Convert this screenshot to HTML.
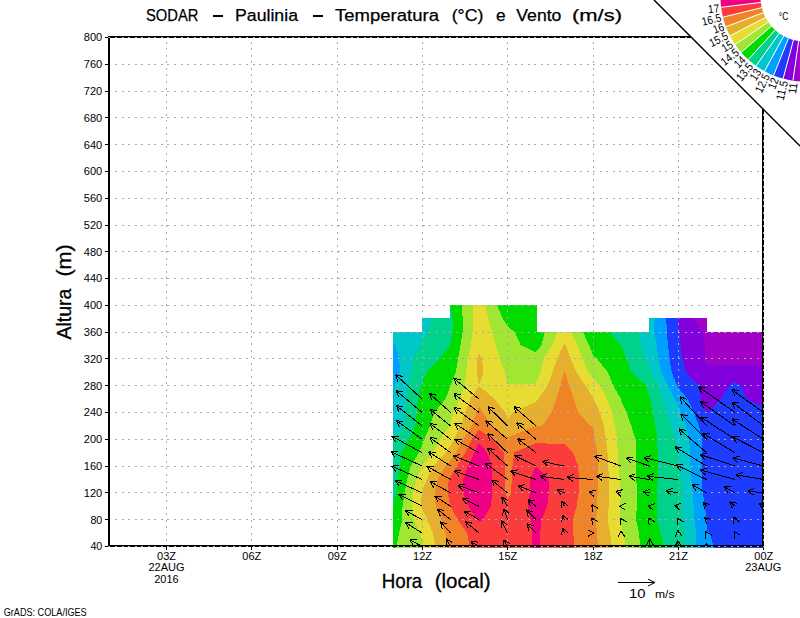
<!DOCTYPE html>
<html><head><meta charset="utf-8"><title>SODAR</title>
<style>html,body{margin:0;padding:0;background:#fff;width:800px;height:618px;overflow:hidden}svg{display:block}</style>
</head><body>
<svg width="800" height="618" viewBox="0 0 800 618"><g shape-rendering="crispEdges"><path d="M393.80 547.40L422.25 547.40L450.69 547.40L479.13 547.40L507.58 547.40L536.02 547.40L564.47 547.40L592.91 547.40L621.35 547.40L649.80 547.40L678.24 547.40L706.69 547.40L735.13 547.40L762.00 547.40L762.00 533.11L762.00 519.71L762.00 506.32L762.00 492.92L762.00 479.53L762.00 466.13L762.00 452.74L762.00 439.34L762.00 425.95L762.00 412.55L762.00 399.16L762.00 385.76L762.00 372.37L762.00 358.97L762.00 345.58L762.00 332.18L735.13 332.18L706.69 332.18L706.69 318.79L678.24 318.79L649.80 318.79L649.80 332.18L621.35 332.18L592.91 332.18L564.47 332.18L536.02 332.18L536.02 318.79L536.02 305.39L507.58 305.39L479.13 305.39L450.69 305.39L450.69 318.79L422.25 318.79L422.25 332.18L393.80 332.18L393.80 345.58L393.80 358.97L393.80 372.37L393.80 385.76L393.80 399.16L393.80 412.55L393.80 425.95L393.80 439.34L393.80 452.74L393.80 466.13L393.80 479.53L393.80 492.92L393.80 506.32L393.80 519.71L393.80 533.11Z" fill="#a000c8" stroke="#a000c8" stroke-width="1" fill-rule="evenodd"/><path d="M393.80 547.40L422.25 547.40L450.69 547.40L479.13 547.40L507.58 547.40L536.02 547.40L564.47 547.40L592.91 547.40L621.35 547.40L649.80 547.40L678.24 547.40L706.69 547.40L735.13 547.40L762.00 547.40L762.00 533.11L762.00 519.71L762.00 506.32L762.00 492.92L762.00 479.53L762.00 466.13L762.00 452.74L762.00 439.34L762.00 425.95L762.00 412.55L762.00 399.16L762.00 385.76L762.00 372.37L762.00 358.97L762.00 345.58L762.00 332.18L735.13 332.18L706.69 332.18L706.69 318.79L678.24 318.79L649.80 318.79L649.80 332.18L621.35 332.18L592.91 332.18L564.47 332.18L536.02 332.18L536.02 318.79L536.02 305.39L507.58 305.39L479.13 305.39L450.69 305.39L450.69 318.79L422.25 318.79L422.25 332.18L393.80 332.18L393.80 345.58L393.80 358.97L393.80 372.37L393.80 385.76L393.80 399.16L393.80 412.55L393.80 425.95L393.80 439.34L393.80 452.74L393.80 466.13L393.80 479.53L393.80 492.92L393.80 506.32L393.80 519.71L393.80 533.11Z" fill="#a000c8" stroke="#a000c8" stroke-width="1" fill-rule="evenodd"/><path d="M393.80 547.40L422.25 547.40L450.69 547.40L479.13 547.40L507.58 547.40L536.02 547.40L564.47 547.40L592.91 547.40L621.35 547.40L649.80 547.40L678.24 547.40L706.69 547.40L735.13 547.40L762.00 547.40L762.00 533.11L762.00 519.71L762.00 506.32L762.00 492.92L762.00 479.53L762.00 466.13L762.00 452.74L762.00 439.34L762.00 425.95L762.00 412.55L762.00 399.16L762.00 385.76L762.00 372.37L762.00 365.00L735.13 365.00L706.69 365.97L704.25 358.97L704.94 345.58L701.88 332.18L692.21 318.79L678.24 318.79L649.80 318.79L649.80 332.18L621.35 332.18L592.91 332.18L564.47 332.18L536.02 332.18L536.02 318.79L536.02 305.39L507.58 305.39L479.13 305.39L450.69 305.39L450.69 318.79L422.25 318.79L422.25 332.18L393.80 332.18L393.80 345.58L393.80 358.97L393.80 372.37L393.80 385.76L393.80 399.16L393.80 412.55L393.80 425.95L393.80 439.34L393.80 452.74L393.80 466.13L393.80 479.53L393.80 492.92L393.80 506.32L393.80 519.71L393.80 533.11Z" fill="#8200dc" stroke="#8200dc" stroke-width="1" fill-rule="evenodd"/><path d="M393.80 547.40L422.25 547.40L450.69 547.40L479.13 547.40L507.58 547.40L536.02 547.40L564.47 547.40L592.91 547.40L621.35 547.40L649.80 547.40L678.24 547.40L706.69 547.40L735.13 547.40L762.00 547.40L762.00 533.11L762.00 519.71L762.00 506.32L762.00 492.92L762.00 479.53L762.00 466.13L762.00 452.74L762.00 439.34L762.00 425.95L762.00 412.55L762.00 406.90L746.27 399.16L740.19 385.76L735.13 382.55L729.62 385.76L721.28 399.16L708.75 412.55L706.69 413.92L706.19 412.55L700.02 399.16L698.05 385.76L685.64 372.37L682.22 358.97L680.01 345.58L678.78 332.18L678.24 327.58L677.72 318.79L649.80 318.79L649.80 332.18L621.35 332.18L592.91 332.18L564.47 332.18L536.02 332.18L536.02 318.79L536.02 305.39L507.58 305.39L479.13 305.39L450.69 305.39L450.69 318.79L422.25 318.79L422.25 332.18L393.80 332.18L393.80 345.58L393.80 358.97L393.80 372.37L393.80 385.76L393.80 399.16L393.80 412.55L393.80 425.95L393.80 439.34L393.80 452.74L393.80 466.13L393.80 479.53L393.80 492.92L393.80 506.32L393.80 519.71L393.80 533.11Z" fill="#1e3cff" stroke="#1e3cff" stroke-width="1" fill-rule="evenodd"/><path d="M393.80 547.40L422.25 547.40L450.69 547.40L479.13 547.40L507.58 547.40L536.02 547.40L564.47 547.40L592.91 547.40L621.35 547.40L649.80 547.40L678.24 547.40L706.69 547.40L713.18 547.40L709.48 533.11L706.69 531.03L706.03 519.71L704.53 506.32L702.40 492.92L701.07 479.53L701.10 466.13L701.83 452.74L701.94 439.34L698.32 425.95L693.41 412.55L686.97 399.16L678.24 388.71L676.52 385.76L671.19 372.37L669.12 358.97L667.56 345.58L666.18 332.18L665.89 318.79L649.80 318.79L649.80 332.18L621.35 332.18L592.91 332.18L564.47 332.18L536.02 332.18L536.02 318.79L536.02 305.39L507.58 305.39L479.13 305.39L450.69 305.39L450.69 318.79L422.25 318.79L422.25 332.18L393.80 332.18L393.80 345.58L393.80 358.97L393.80 372.37L393.80 385.76L393.80 399.16L393.80 412.55L393.80 425.95L393.80 439.34L393.80 452.74L393.80 466.13L393.80 479.53L393.80 492.92L393.80 506.32L393.80 519.71L393.80 533.11Z" fill="#00a0ff" stroke="#00a0ff" stroke-width="1" fill-rule="evenodd"/><path d="M393.80 547.40L422.25 547.40L450.69 547.40L479.13 547.40L507.58 547.40L536.02 547.40L564.47 547.40L592.91 547.40L621.35 547.40L649.80 547.40L678.24 547.40L696.14 547.40L695.38 533.11L694.07 519.71L693.17 506.32L692.09 492.92L690.87 479.53L690.04 466.13L689.55 452.74L688.76 439.34L685.57 425.95L680.63 412.55L678.24 407.72L674.18 399.16L667.43 385.76L660.87 372.37L657.98 358.97L656.06 345.58L653.83 332.18L654.06 318.79L649.80 318.79L649.80 332.18L621.35 332.18L592.91 332.18L564.47 332.18L536.02 332.18L536.02 318.79L536.02 305.39L507.58 305.39L479.13 305.39L450.69 305.39L450.69 318.79L422.25 318.79L422.25 332.18L393.80 332.18L393.80 343.54L396.03 345.58L399.95 358.97L400.20 372.37L394.90 385.76L394.72 399.16L393.92 412.55L393.91 425.95L393.80 426.08L393.80 439.34L393.80 452.74L393.80 466.13L393.80 479.53L393.80 492.92L393.80 506.32L393.80 519.71L393.80 533.11Z" fill="#00c8c8" stroke="#00c8c8" stroke-width="1" fill-rule="evenodd"/><path d="M393.80 547.40L422.25 547.40L450.69 547.40L479.13 547.40L507.58 547.40L536.02 547.40L564.47 547.40L592.91 547.40L621.35 547.40L649.80 547.40L678.24 547.40L685.49 547.40L683.97 533.11L682.11 519.71L681.82 506.32L681.78 492.92L680.67 479.53L678.98 466.13L678.24 460.01L676.68 452.74L674.66 439.34L671.21 425.95L666.61 412.55L661.93 399.16L658.33 385.76L650.56 372.37L649.80 369.46L644.84 358.97L640.71 345.58L637.67 332.18L621.35 332.18L592.91 332.18L564.47 332.18L536.02 332.18L536.02 318.79L536.02 305.39L507.58 305.39L479.13 305.39L450.69 305.39L450.69 318.79L432.91 318.79L427.83 332.18L422.25 342.58L420.93 345.58L413.28 358.97L411.80 372.37L408.40 385.76L406.48 399.16L405.65 412.55L404.86 425.95L394.16 439.34L393.80 439.90L393.80 452.74L393.80 466.13L393.80 479.53L393.80 492.92L393.80 506.32L393.80 519.71L393.80 533.11Z" fill="#00d28c" stroke="#00d28c" stroke-width="1" fill-rule="evenodd"/><path d="M393.80 547.40L422.25 547.40L450.69 547.40L479.13 547.40L507.58 547.40L536.02 547.40L564.47 547.40L592.91 547.40L621.35 547.40L649.80 547.40L663.34 547.40L660.11 533.11L655.98 519.71L657.04 506.32L656.78 492.92L657.10 479.53L657.16 466.13L657.04 452.74L656.95 439.34L654.65 425.95L652.31 412.55L649.80 399.88L649.50 399.16L645.46 385.76L630.94 372.37L626.17 358.97L621.35 347.04L620.02 345.58L609.01 332.18L592.91 332.18L564.47 332.18L536.02 332.18L536.02 318.79L536.02 305.39L507.58 305.39L479.13 305.39L450.69 305.39L450.69 305.88L453.32 318.79L453.17 332.18L450.69 345.06L450.39 345.58L440.07 358.97L427.16 372.37L422.25 383.05L421.90 385.76L418.24 399.16L417.38 412.55L415.80 425.95L409.37 439.34L401.88 452.74L400.60 466.13L398.32 479.53L396.61 492.92L393.80 505.92L393.80 506.32L393.80 519.71L393.80 533.11Z" fill="#00dc00" stroke="#00dc00" stroke-width="1" fill-rule="evenodd"/><path d="M396.93 547.40L422.25 547.40L450.69 547.40L479.13 547.40L507.58 547.40L536.02 547.40L564.47 547.40L592.91 547.40L621.35 547.40L639.69 547.40L638.51 533.11L635.58 519.71L636.21 506.32L636.25 492.92L635.94 479.53L635.44 466.13L635.15 452.74L635.26 439.34L630.80 425.95L626.11 412.55L621.35 402.79L620.51 399.16L612.72 385.76L607.43 372.37L596.55 358.97L592.91 355.86L588.70 345.58L582.42 332.18L564.47 332.18L545.31 332.18L541.75 345.58L536.02 352.89L520.46 345.58L514.11 332.18L507.58 327.19L502.30 318.79L496.57 305.39L479.13 305.39L462.10 305.39L463.24 318.79L463.11 332.18L460.98 345.58L458.51 358.97L456.18 372.37L450.83 385.76L450.69 386.72L445.99 399.16L434.87 412.55L430.47 425.95L424.73 439.34L422.25 446.12L419.58 452.74L411.37 466.13L407.71 479.53L405.13 492.92L403.04 506.32L402.74 519.71L399.45 533.11Z" fill="#a0e632" stroke="#a0e632" stroke-width="1" fill-rule="evenodd"/><path d="M420.56 533.11L422.25 538.21L423.96 547.40L450.69 547.40L479.13 547.40L507.58 547.40L536.02 547.40L564.47 547.40L592.91 547.40L621.35 547.40L625.47 547.40L622.76 533.11L621.35 528.78L619.11 519.71L619.50 506.32L619.81 492.92L618.93 479.53L617.96 466.13L617.23 452.74L616.58 439.34L614.36 425.95L611.38 412.55L606.83 399.16L599.59 385.76L592.91 378.64L587.68 372.37L582.25 358.97L577.00 345.58L570.47 332.18L564.47 332.18L558.07 332.18L552.72 345.58L543.87 358.97L541.32 372.37L536.02 384.86L507.58 384.93L504.34 372.37L499.34 358.97L495.28 345.58L491.62 332.18L487.85 318.79L484.77 305.39L479.13 305.39L473.62 305.39L473.15 318.79L473.04 332.18L471.38 345.58L468.22 358.97L466.71 372.37L465.29 385.76L460.16 399.16L453.83 412.55L450.69 425.46L450.49 425.95L440.85 439.34L433.20 452.74L422.25 465.98L422.14 466.13L417.10 479.53L413.64 492.92L412.37 506.32L414.78 519.71Z" fill="#e6dc32" stroke="#e6dc32" stroke-width="1" fill-rule="evenodd"/><path d="M435.83 547.40L450.69 547.40L479.13 547.40L507.58 547.40L536.02 547.40L564.47 547.40L592.91 547.40L611.50 547.40L609.50 533.11L607.17 519.71L608.11 506.32L608.44 492.92L608.15 479.53L607.93 466.13L607.04 452.74L605.48 439.34L603.58 425.95L599.42 412.55L593.15 399.16L592.91 398.69L585.07 385.76L576.01 372.37L570.28 358.97L565.29 345.58L564.47 343.91L563.69 345.58L557.73 358.97L552.95 372.37L548.21 385.76L538.85 399.16L536.02 402.45L513.24 412.55L507.58 420.25L504.87 412.55L494.02 399.16L479.13 386.48L471.05 399.16L465.61 412.55L461.34 425.95L454.22 439.34L450.69 446.33L446.08 452.74L434.02 466.13L427.22 479.53L422.25 492.63L422.16 492.92L421.70 506.32L422.25 508.10L427.70 519.71L433.58 533.11ZM477.23 372.37L479.13 383.24L482.99 372.37L481.35 358.97L479.13 354.60L477.94 358.97Z" fill="#e6af2d" stroke="#e6af2d" stroke-width="1" fill-rule="evenodd"/><path d="M447.71 547.40L450.69 547.40L479.13 547.40L507.58 547.40L536.02 547.40L564.47 547.40L592.91 547.40L597.65 547.40L596.48 533.11L595.22 519.71L596.72 506.32L597.06 492.92L597.37 479.53L597.91 466.13L596.86 452.74L594.37 439.34L592.91 426.89L589.60 425.95L577.70 412.55L573.22 399.16L569.10 385.76L564.47 372.81L560.81 385.76L556.68 399.16L552.07 412.55L542.94 425.95L536.02 426.47L507.58 438.00L491.02 425.95L482.46 412.55L479.13 407.65L477.38 412.55L472.10 425.95L463.27 439.34L456.58 452.74L450.69 460.97L445.91 466.13L438.22 479.53L435.18 492.92L436.19 506.32L442.06 519.71L445.90 533.11Z" fill="#f08228" stroke="#f08228" stroke-width="1" fill-rule="evenodd"/><path d="M469.99 547.40L479.13 547.40L507.58 547.40L536.02 547.40L564.47 547.40L573.81 547.40L572.81 533.11L572.55 519.71L576.07 506.32L578.20 492.92L578.51 479.53L577.76 466.13L572.55 452.74L564.47 444.52L536.02 443.70L514.57 452.74L513.02 466.13L512.34 479.53L511.46 492.92L507.58 501.27L504.90 492.92L504.25 479.53L504.57 466.13L503.13 452.74L492.11 439.34L479.13 430.16L472.31 439.34L465.75 452.74L457.33 466.13L450.69 477.08L449.22 479.53L448.25 492.92L450.69 504.94L451.07 506.32L458.35 519.71L467.69 533.11Z" fill="#fa3c3c" stroke="#fa3c3c" stroke-width="1" fill-rule="evenodd"/><path d="M532.86 547.40L536.02 547.40L539.75 547.40L539.74 533.11L540.78 519.71L546.79 506.32L548.27 492.92L547.98 479.53L536.02 466.85L530.41 479.53L530.25 492.92L528.24 506.32L531.25 519.71L532.85 533.11ZM477.52 519.71L479.13 521.39L482.28 519.71L490.23 506.32L491.95 492.92L491.63 479.53L491.62 466.13L486.70 452.74L479.13 444.01L474.91 452.74L468.43 466.13L463.97 479.53L463.52 492.92L469.07 506.32Z" fill="#f00082" stroke="#f00082" stroke-width="1" fill-rule="evenodd"/></g>
<path d="M108.45 519.5H762 M108.45 492.5H762 M108.45 466.5H762 M108.45 439.5H762 M108.45 412.5H762 M108.45 385.5H762 M108.45 358.5H762 M108.45 332.5H762 M108.45 305.5H762 M108.45 278.5H762 M108.45 251.5H762 M108.45 225.5H762 M108.45 198.5H762 M108.45 171.5H762 M108.45 144.5H762 M108.45 117.5H762 M108.45 91.5H762 M108.45 64.5H762 M166.5 548V38 M251.5 548V38 M337.5 548V38 M422.5 548V38 M507.5 548V38 M593.5 548V38 M678.5 548V38" stroke="#aaa" stroke-width="1" stroke-dasharray="2 4.55" fill="none" shape-rendering="crispEdges"/>
<clipPath id="pc"><rect x="108" y="36" width="654" height="511"/></clipPath><path clip-path="url(#pc)" d="M422.25 399.16L395.60 374.75M395.60 374.75L398.00 381.54M395.60 374.75L402.57 376.55M422.25 412.55L396.25 390.60M396.25 390.60L398.93 397.28M396.25 390.60L403.29 392.12M422.25 425.95L396.25 405.60M396.25 405.60L399.17 412.18M396.25 405.60L403.34 406.86M422.25 439.34L396.25 420.60M396.25 420.60L399.43 427.06M396.25 420.60L403.38 421.58M422.25 452.74L391.60 436.10M391.60 436.10L395.57 442.10M391.60 436.10L398.80 436.16M422.25 466.13L391.00 451.75M391.00 451.75L395.36 457.48M391.00 451.75L398.19 451.34M422.25 479.53L391.60 466.10M391.60 466.10L396.07 471.75M391.60 466.10L398.78 465.55M422.25 492.92L395.00 480.50M395.00 480.50L399.38 486.21M395.00 480.50L402.19 480.06M422.25 506.32L398.80 494.25M398.80 494.25L402.91 500.16M398.80 494.25L406.00 494.15M422.25 519.71L405.40 510.50M405.40 510.50L409.36 516.52M405.40 510.50L412.60 510.58M422.25 533.11L405.40 522.40M405.40 522.40L408.95 528.66M405.40 522.40L412.58 522.96M422.25 546.50L409.75 539.90M409.75 539.90L413.79 545.86M409.75 539.90L416.95 539.88M450.69 412.55L429.40 393.50M429.40 393.50L431.88 400.26M429.40 393.50L436.39 395.22M450.69 425.95L430.20 409.40M430.20 409.40L433.02 416.02M430.20 409.40L437.27 410.76M450.69 439.34L430.00 423.50M430.00 423.50L432.99 430.05M430.00 423.50L437.10 424.68M450.69 452.74L429.75 437.40M429.75 437.40L432.88 443.88M429.75 437.40L436.88 438.43M450.69 466.13L428.50 451.75M428.50 451.75L432.00 458.04M428.50 451.75L435.67 452.37M450.69 479.53L426.60 466.10M426.60 466.10L430.51 472.15M426.60 466.10L433.80 466.24M450.69 492.92L429.75 481.40M429.75 481.40L433.69 487.43M429.75 481.40L436.95 481.50M450.69 506.32L434.75 496.10M434.75 496.10L438.28 502.38M434.75 496.10L441.93 496.68M450.69 519.71L437.25 509.25M437.25 509.25L440.19 515.82M437.25 509.25L444.34 510.49M450.69 533.11L440.40 521.75M440.40 521.75L442.16 528.73M440.40 521.75L447.17 524.19M450.69 546.50L446.00 538.60M446.00 538.60L446.34 545.79M446.00 538.60L452.15 542.34M479.13 399.16L453.75 378.30M453.75 378.30L456.52 384.95M453.75 378.30L460.81 379.72M479.13 412.55L453.60 393.50M453.60 393.50L456.67 400.01M453.60 393.50L460.72 394.59M479.13 425.95L453.90 407.50M453.90 407.50L457.04 413.98M453.90 407.50L461.03 408.52M479.13 439.34L454.40 423.10M454.40 423.10L457.86 429.41M454.40 423.10L461.57 423.76M479.13 452.74L454.75 439.25M454.75 439.25L458.68 445.28M454.75 439.25L461.95 439.37M479.13 466.13L452.90 455.50M452.90 455.50L457.52 461.02M452.90 455.50L460.06 454.75M479.13 479.53L454.10 471.10M454.10 471.10L459.05 476.33M454.10 471.10L461.20 469.92M479.13 492.92L457.90 485.20M457.90 485.20L462.72 490.55M457.90 485.20L465.03 484.20M479.13 506.32L462.25 498.30M462.25 498.30L466.54 504.08M462.25 498.30L469.44 497.97M479.13 519.71L464.10 511.10M464.10 511.10L467.94 517.19M464.10 511.10L471.30 511.33M479.13 533.11L465.40 521.75M465.40 521.75L468.15 528.41M465.40 521.75L472.45 523.20M479.13 546.50L471.00 541.75M471.00 541.75L474.79 547.87M471.00 541.75L478.19 542.04M507.58 425.95L487.75 406.60M487.75 406.60L489.94 413.46M487.75 406.60L494.66 408.62M507.58 439.34L485.60 420.60M485.60 420.60L488.24 427.30M485.60 420.60L492.63 422.15M507.58 452.74L487.50 433.60M487.50 433.60L489.77 440.43M487.50 433.60L494.43 435.54M507.58 466.13L487.50 448.00M487.50 448.00L489.95 454.77M487.50 448.00L494.48 449.75M507.58 479.53L485.00 463.00M485.00 463.00L488.13 469.48M485.00 463.00L492.13 464.03M507.58 492.92L491.60 479.90M491.60 479.90L494.39 486.54M491.60 479.90L498.66 481.30M507.58 506.32L501.90 496.75M501.90 496.75L502.24 503.94M501.90 496.75L508.05 500.49M507.58 519.71L503.75 508.60M503.75 508.60L502.63 515.71M503.75 508.60L509.02 513.51M507.58 533.11L501.25 520.50M501.25 520.50L501.08 527.70M501.25 520.50L507.12 524.66M507.58 546.50L503.75 539.90M503.75 539.90L504.02 547.10M503.75 539.90L509.86 543.70M536.02 425.95L513.75 406.60M513.75 406.60L516.33 413.32M513.75 406.60L520.77 408.22M536.02 439.34L516.60 422.75M516.60 422.75L519.24 429.45M516.60 422.75L523.63 424.31M536.02 452.74L517.50 438.60M517.50 438.60L520.50 445.14M517.50 438.60L524.60 439.77M536.02 466.13L514.40 455.50M514.40 455.50L518.61 461.34M514.40 455.50L521.60 455.27M536.02 479.53L510.60 471.10M510.60 471.10L515.57 476.31M510.60 471.10L517.70 469.89M536.02 492.92L517.90 485.50M517.90 485.50L522.50 491.04M517.90 485.50L525.06 484.78M536.02 506.32L527.80 499.50M527.80 499.50L530.54 506.16M527.80 499.50L534.85 500.95M536.02 519.71L526.25 509.90M526.25 509.90L528.34 516.79M526.25 509.90L533.13 512.02M536.02 533.11L526.90 523.60M526.90 523.60L528.86 530.53M526.90 523.60L533.74 525.85M564.47 466.13L542.50 461.50M542.50 461.50L548.02 466.12M542.50 461.50L549.42 459.50M564.47 479.53L540.00 476.20M540.00 476.20L545.84 480.41M540.00 476.20L546.75 473.71M564.47 492.92L556.90 489.60M556.90 489.60L561.36 495.25M556.90 489.60L564.08 489.06M564.47 506.32L561.90 501.10M561.90 501.10L561.67 508.30M561.90 501.10L567.74 505.31M564.47 519.71L562.50 514.90M562.50 514.90L561.78 522.06M562.50 514.90L568.03 519.51M564.47 533.11L562.50 528.00M562.50 528.00L561.63 535.15M562.50 528.00L567.94 532.72M592.91 479.53L566.90 477.30M566.90 477.30L572.95 481.21M566.90 477.30L573.52 474.47M592.91 492.92L588.75 492.00M588.75 492.00L594.23 496.67M588.75 492.00L595.69 490.07M621.35 466.13L594.40 456.25M594.40 456.25L599.21 461.61M594.40 456.25L601.53 455.26M621.35 479.53L596.25 476.25M596.25 476.25L602.12 480.42M596.25 476.25L602.99 473.72M621.35 492.92L615.60 491.50M615.60 491.50L620.96 496.31M615.60 491.50L622.58 489.74M649.80 466.13L626.25 458.10M626.25 458.10L631.18 463.35M626.25 458.10L633.36 456.95M649.80 479.53L628.75 476.25M628.75 476.25L634.51 480.57M628.75 476.25L635.55 473.89M649.80 492.92L643.00 491.50M643.00 491.50L648.53 496.11M643.00 491.50L649.91 489.49M678.24 466.13L643.75 457.50M643.75 457.50L649.10 462.32M643.75 457.50L650.74 455.76M678.24 479.53L646.90 476.25M646.90 476.25L652.87 480.27M646.90 476.25L653.57 473.55M678.24 492.92L665.80 490.80M665.80 490.80L671.50 495.20M665.80 490.80L672.63 488.54M706.69 425.95L679.90 396.70M679.90 396.70L681.70 403.67M679.90 396.70L686.69 399.11M706.69 439.34L680.80 414.00M680.80 414.00L682.98 420.86M680.80 414.00L687.71 416.03M706.69 452.74L678.75 428.75M678.75 428.75L681.37 435.46M678.75 428.75L685.78 430.33M706.69 466.13L675.00 446.90M675.00 446.90L678.68 453.09M675.00 446.90L682.19 447.31M706.69 479.53L676.25 465.00M676.25 465.00L680.53 470.79M676.25 465.00L683.44 464.69M706.69 492.92L692.00 484.50M692.00 484.50L695.83 490.59M692.00 484.50L699.20 484.73M706.69 506.32L703.10 502.40M703.10 502.40L704.90 509.37M703.10 502.40L709.89 504.81M735.13 412.55L698.60 386.75M698.60 386.75L701.84 393.18M698.60 386.75L705.74 387.66M735.13 425.95L700.40 401.60M700.40 401.60L703.67 408.02M700.40 401.60L707.55 402.48M735.13 439.34L700.80 417.10M700.80 417.10L704.30 423.39M700.80 417.10L707.97 417.72M735.13 452.74L702.50 433.10M702.50 433.10L706.20 439.27M702.50 433.10L709.69 433.48M735.13 466.13L700.00 454.50M700.00 454.50L704.97 459.71M700.00 454.50L707.10 453.29M735.13 479.53L700.00 469.90M700.00 469.90L705.24 474.84M700.00 469.90L707.02 468.32M735.13 492.92L724.00 486.60M724.00 486.60L727.86 492.68M724.00 486.60L731.20 486.80M735.13 506.32L729.70 501.70M729.70 501.70L732.35 508.39M729.70 501.70L736.73 503.24M763.57 412.55L731.80 389.60M731.80 389.60L734.97 396.06M731.80 389.60L738.93 390.58M763.57 425.95L731.80 401.90M731.80 401.90L734.83 408.43M731.80 401.90L738.91 403.04M763.57 439.34L731.80 418.80M731.80 418.80L735.30 425.09M731.80 418.80L738.97 419.41M763.57 452.74L732.40 436.80M732.40 436.80L736.52 442.70M732.40 436.80L739.60 436.68M763.57 466.13L732.80 457.80M732.80 457.80L738.05 462.72M732.80 457.80L739.82 456.20M763.57 479.53L735.80 474.75M735.80 474.75L741.49 479.16M735.80 474.75L742.64 472.50M763.57 492.92L747.70 491.00M747.70 491.00L753.61 495.12M747.70 491.00L754.42 488.41M763.57 506.32L759.50 503.50M759.50 503.50L762.81 509.90M759.50 503.50L766.65 504.33M592.91 506.32L591.91 504.58M591.91 504.58L592.16 511.78M591.91 504.58L598.02 508.40M592.91 519.71L591.91 517.98M591.91 517.98L592.16 525.17M591.91 517.98L598.02 521.79M592.91 533.11L593.91 533.11M593.91 533.11L587.55 529.73M593.91 533.11L587.55 536.49M621.35 506.32L619.36 506.14M619.36 506.14L625.40 510.06M619.36 506.14L625.99 503.33M621.35 519.71L620.35 517.98M620.35 517.98L620.61 525.17M620.35 517.98L626.46 521.79M621.35 533.11L621.35 530.61M621.35 530.61L617.97 536.96M621.35 530.61L624.73 536.96M649.80 506.32L647.83 505.97M647.83 505.97L653.50 510.40M647.83 505.97L654.68 503.74M649.80 519.71L648.80 517.98M648.80 517.98L649.05 525.17M648.80 517.98L654.90 521.79M649.80 546.50L649.80 538.50M649.80 538.50L646.42 544.86M649.80 538.50L653.18 544.86M678.24 506.32L674.30 505.62M674.30 505.62L679.98 510.05M674.30 505.62L681.15 503.40M678.24 519.71L677.24 517.98M677.24 517.98L677.49 525.17M677.24 517.98L683.35 521.79M678.24 533.11L677.98 530.12M677.98 530.12L675.17 536.74M677.98 530.12L681.90 536.16M678.24 546.50L677.72 540.52M677.72 540.52L674.91 547.15M677.72 540.52L681.64 546.56M706.69 519.71L704.39 517.78M704.39 517.78L707.09 524.46M704.39 517.78L711.43 519.28M706.69 533.11L705.69 531.37M705.69 531.37L705.94 538.57M705.69 531.37L711.79 535.19M706.69 546.50L706.42 543.51M706.42 543.51L703.61 550.14M706.42 543.51L710.35 549.55M735.13 519.71L734.10 516.89M734.10 516.89L733.10 524.02M734.10 516.89L739.45 521.71M735.13 533.11L734.13 531.37M734.13 531.37L734.38 538.57M734.13 531.37L740.24 535.19" stroke="#000" stroke-width="1" fill="none" shape-rendering="crispEdges"/>
<path d="M109 36V546M108 546.0H764M763 547V36M108 37H764" stroke="#000" stroke-width="2" fill="none" shape-rendering="crispEdges"/>
<path d="M108.45 546.5H762M108.45 37.5H692M763.5 548V110" stroke="#aaa" stroke-width="1" stroke-dasharray="2 4.55" fill="none" shape-rendering="crispEdges"/>
<path d="M105 546.5H108 M105 519.5H108 M105 492.5H108 M105 466.5H108 M105 439.5H108 M105 412.5H108 M105 385.5H108 M105 358.5H108 M105 332.5H108 M105 305.5H108 M105 278.5H108 M105 251.5H108 M105 225.5H108 M105 198.5H108 M105 171.5H108 M105 144.5H108 M105 117.5H108 M105 91.5H108 M105 64.5H108 M105 37.5H108 M166.5 547V550 M251.5 547V550 M337.5 547V550 M422.5 547V550 M507.5 547V550 M593.5 547V550 M678.5 547V550 M763.5 547V550" stroke="#000" stroke-width="1" fill="none" shape-rendering="crispEdges"/>
<text x="90.4" y="550.3" font-family="'Liberation Sans', sans-serif" font-size="10.5" textLength="11.9" lengthAdjust="spacingAndGlyphs">40</text>
<text x="90.4" y="523.5" font-family="'Liberation Sans', sans-serif" font-size="10.5" textLength="11.9" lengthAdjust="spacingAndGlyphs">80</text>
<text x="83.8" y="496.7" font-family="'Liberation Sans', sans-serif" font-size="10.5" textLength="18.5" lengthAdjust="spacingAndGlyphs">120</text>
<text x="83.8" y="469.9" font-family="'Liberation Sans', sans-serif" font-size="10.5" textLength="18.5" lengthAdjust="spacingAndGlyphs">160</text>
<text x="83.8" y="443.1" font-family="'Liberation Sans', sans-serif" font-size="10.5" textLength="18.5" lengthAdjust="spacingAndGlyphs">200</text>
<text x="83.8" y="416.4" font-family="'Liberation Sans', sans-serif" font-size="10.5" textLength="18.5" lengthAdjust="spacingAndGlyphs">240</text>
<text x="83.8" y="389.6" font-family="'Liberation Sans', sans-serif" font-size="10.5" textLength="18.5" lengthAdjust="spacingAndGlyphs">280</text>
<text x="83.8" y="362.8" font-family="'Liberation Sans', sans-serif" font-size="10.5" textLength="18.5" lengthAdjust="spacingAndGlyphs">320</text>
<text x="83.8" y="336.0" font-family="'Liberation Sans', sans-serif" font-size="10.5" textLength="18.5" lengthAdjust="spacingAndGlyphs">360</text>
<text x="83.8" y="309.2" font-family="'Liberation Sans', sans-serif" font-size="10.5" textLength="18.5" lengthAdjust="spacingAndGlyphs">400</text>
<text x="83.8" y="282.4" font-family="'Liberation Sans', sans-serif" font-size="10.5" textLength="18.5" lengthAdjust="spacingAndGlyphs">440</text>
<text x="83.8" y="255.6" font-family="'Liberation Sans', sans-serif" font-size="10.5" textLength="18.5" lengthAdjust="spacingAndGlyphs">480</text>
<text x="83.8" y="228.8" font-family="'Liberation Sans', sans-serif" font-size="10.5" textLength="18.5" lengthAdjust="spacingAndGlyphs">520</text>
<text x="83.8" y="202.0" font-family="'Liberation Sans', sans-serif" font-size="10.5" textLength="18.5" lengthAdjust="spacingAndGlyphs">560</text>
<text x="83.8" y="175.2" font-family="'Liberation Sans', sans-serif" font-size="10.5" textLength="18.5" lengthAdjust="spacingAndGlyphs">600</text>
<text x="83.8" y="148.5" font-family="'Liberation Sans', sans-serif" font-size="10.5" textLength="18.5" lengthAdjust="spacingAndGlyphs">640</text>
<text x="83.8" y="121.7" font-family="'Liberation Sans', sans-serif" font-size="10.5" textLength="18.5" lengthAdjust="spacingAndGlyphs">680</text>
<text x="83.8" y="94.9" font-family="'Liberation Sans', sans-serif" font-size="10.5" textLength="18.5" lengthAdjust="spacingAndGlyphs">720</text>
<text x="83.8" y="68.1" font-family="'Liberation Sans', sans-serif" font-size="10.5" textLength="18.5" lengthAdjust="spacingAndGlyphs">760</text>
<text x="83.8" y="41.3" font-family="'Liberation Sans', sans-serif" font-size="10.5" textLength="18.5" lengthAdjust="spacingAndGlyphs">800</text>
<text x="166.5" y="559.8" font-family="'Liberation Sans', sans-serif" font-size="11" text-anchor="middle">03Z</text>
<text x="251.8" y="559.8" font-family="'Liberation Sans', sans-serif" font-size="11" text-anchor="middle">06Z</text>
<text x="337.2" y="559.8" font-family="'Liberation Sans', sans-serif" font-size="11" text-anchor="middle">09Z</text>
<text x="422.5" y="559.8" font-family="'Liberation Sans', sans-serif" font-size="11" text-anchor="middle">12Z</text>
<text x="507.8" y="559.8" font-family="'Liberation Sans', sans-serif" font-size="11" text-anchor="middle">15Z</text>
<text x="593.2" y="559.8" font-family="'Liberation Sans', sans-serif" font-size="11" text-anchor="middle">18Z</text>
<text x="678.5" y="559.8" font-family="'Liberation Sans', sans-serif" font-size="11" text-anchor="middle">21Z</text>
<text x="763.8" y="559.8" font-family="'Liberation Sans', sans-serif" font-size="11" text-anchor="middle">00Z</text>
<text x="166.5" y="571.2" font-family="'Liberation Sans', sans-serif" font-size="11" text-anchor="middle">22AUG</text>
<text x="166.5" y="582.5" font-family="'Liberation Sans', sans-serif" font-size="11" text-anchor="middle">2016</text>
<text x="763.3" y="571.2" font-family="'Liberation Sans', sans-serif" font-size="11" text-anchor="middle">23AUG</text>
<text x="146" y="21" font-family="'Liberation Sans', sans-serif" font-size="16.8" stroke="#000" stroke-width="0.25" textLength="52.4" lengthAdjust="spacingAndGlyphs">SODAR</text>
<text x="235" y="21" font-family="'Liberation Sans', sans-serif" font-size="16.8" stroke="#000" stroke-width="0.25" textLength="63.0" lengthAdjust="spacingAndGlyphs">Paulinia</text>
<text x="335" y="21" font-family="'Liberation Sans', sans-serif" font-size="16.8" stroke="#000" stroke-width="0.25" textLength="104.0" lengthAdjust="spacingAndGlyphs">Temperatura</text>
<text x="451.7" y="21" font-family="'Liberation Sans', sans-serif" font-size="16.8" stroke="#000" stroke-width="0.25" textLength="31.8" lengthAdjust="spacingAndGlyphs">(°C)</text>
<text x="496" y="21" font-family="'Liberation Sans', sans-serif" font-size="16.8" stroke="#000" stroke-width="0.25" textLength="9.6" lengthAdjust="spacingAndGlyphs">e</text>
<text x="516.3" y="21" font-family="'Liberation Sans', sans-serif" font-size="16.8" stroke="#000" stroke-width="0.25" textLength="45.1" lengthAdjust="spacingAndGlyphs">Vento</text>
<text x="572" y="21" font-family="'Liberation Sans', sans-serif" font-size="16.8" stroke="#000" stroke-width="0.25" textLength="50.0" lengthAdjust="spacingAndGlyphs">(m/s)</text>
<path d="M213 15h10v2h-10zM313 15h10v2h-10z" fill="#000"/>
<text x="381.7" y="588" font-family="'Liberation Sans', sans-serif" font-size="20.3" stroke="#000" stroke-width="0.3" textLength="40.6" lengthAdjust="spacingAndGlyphs">Hora</text>
<text x="434.7" y="588" font-family="'Liberation Sans', sans-serif" font-size="20.3" stroke="#000" stroke-width="0.3" textLength="56" lengthAdjust="spacingAndGlyphs">(local)</text>
<text transform="translate(71.3 339.6) rotate(-90)" x="0" y="0" font-family="'Liberation Sans', sans-serif" font-size="19.8" stroke="#000" stroke-width="0.3" textLength="51.1" lengthAdjust="spacingAndGlyphs">Altura</text>
<text transform="translate(71.3 276.6) rotate(-90)" x="0" y="0" font-family="'Liberation Sans', sans-serif" font-size="19.8" stroke="#000" stroke-width="0.3" textLength="32.3" lengthAdjust="spacingAndGlyphs">(m)</text>
<text x="3.7" y="615.8" font-family="'Liberation Sans', sans-serif" font-size="10.5" textLength="83" lengthAdjust="spacingAndGlyphs">GrADS: COLA/IGES</text>
<path d="M618 582.5H655M648 579.2L655 582.5L648 586" stroke="#000" stroke-width="1" fill="none"/>
<text x="629" y="597.8" font-family="'Liberation Sans', sans-serif" font-size="13" textLength="16.5" lengthAdjust="spacingAndGlyphs">10</text>
<text x="655" y="597.8" font-family="'Liberation Sans', sans-serif" font-size="11.5" textLength="19.5" lengthAdjust="spacingAndGlyphs">m/s</text>
<path d="M654 0L800 146L800 0Z" fill="#fff"/>
<path d="M654 0L800 146" stroke="#000" stroke-width="1.5"/>
<path d="M721.32 -14.76A84.5 84.5 0 0 0 721.13 7.30L760.83 2.42A44.5 44.5 0 0 1 760.93 -9.19Z" fill="#f00082"/>
<path d="M721.13 7.30A84.5 84.5 0 0 0 722.94 17.16L761.78 7.61A44.5 44.5 0 0 1 760.83 2.42Z" fill="#fa3c3c"/>
<path d="M722.94 17.16A84.5 84.5 0 0 0 725.90 26.73L763.35 12.66A44.5 44.5 0 0 1 761.78 7.61Z" fill="#f08228"/>
<path d="M725.90 26.73A84.5 84.5 0 0 0 729.98 35.89L765.49 17.48A44.5 44.5 0 0 1 763.35 12.66Z" fill="#e6af2d"/>
<path d="M729.98 35.89A84.5 84.5 0 0 0 735.11 44.50L768.19 22.01A44.5 44.5 0 0 1 765.49 17.48Z" fill="#e6dc32"/>
<path d="M735.11 44.50A84.5 84.5 0 0 0 741.23 52.44L771.42 26.19A44.5 44.5 0 0 1 768.19 22.01Z" fill="#a0e632"/>
<path d="M741.23 52.44A84.5 84.5 0 0 0 748.24 59.60L775.11 29.97A44.5 44.5 0 0 1 771.42 26.19Z" fill="#00dc00"/>
<path d="M748.24 59.60A84.5 84.5 0 0 0 756.05 65.88L779.22 33.27A44.5 44.5 0 0 1 775.11 29.97Z" fill="#00d28c"/>
<path d="M756.05 65.88A84.5 84.5 0 0 0 764.55 71.19L783.70 36.07A44.5 44.5 0 0 1 779.22 33.27Z" fill="#00c8c8"/>
<path d="M764.55 71.19A84.5 84.5 0 0 0 773.62 75.46L788.47 38.32A44.5 44.5 0 0 1 783.70 36.07Z" fill="#00a0ff"/>
<path d="M773.62 75.46A84.5 84.5 0 0 0 783.13 78.62L793.48 39.98A44.5 44.5 0 0 1 788.47 38.32Z" fill="#1e3cff"/>
<path d="M783.13 78.62A84.5 84.5 0 0 0 792.95 80.64L798.65 41.05A44.5 44.5 0 0 1 793.48 39.98Z" fill="#8200dc"/>
<path d="M792.95 80.64A84.5 84.5 0 0 0 802.94 81.47L803.91 41.49A44.5 44.5 0 0 1 798.65 41.05Z" fill="#a000c8"/>
<path d="M802.94 81.47A84.5 84.5 0 0 0 812.95 81.12L809.19 41.30A44.5 44.5 0 0 1 803.91 41.49Z" fill="#a000c8"/>
<path d="M760.83 2.42L721.13 7.30 M761.78 7.61L722.94 17.16 M763.35 12.66L725.90 26.73 M765.49 17.48L729.98 35.89 M768.19 22.01L735.11 44.50 M771.42 26.19L741.23 52.44 M775.11 29.97L748.24 59.60 M779.22 33.27L756.05 65.88 M783.70 36.07L764.55 71.19 M788.47 38.32L773.62 75.46 M793.48 39.98L783.13 78.62 M798.65 41.05L792.95 80.64 M803.91 41.49L802.94 81.47" stroke="#fff" stroke-width="1"/>
<text transform="translate(719.16 7.69) rotate(-7.1)" x="-11.2" y="4.3" font-family="'Liberation Sans', sans-serif" font-size="11.5" textLength="11.2" lengthAdjust="spacingAndGlyphs">17</text>
<text transform="translate(720.84 16.98) rotate(-13.4)" x="-19.6" y="4.3" font-family="'Liberation Sans', sans-serif" font-size="11.5" textLength="19.6" lengthAdjust="spacingAndGlyphs">16.5</text>
<text transform="translate(723.52 26.04) rotate(-19.6)" x="-11.2" y="4.3" font-family="'Liberation Sans', sans-serif" font-size="11.5" textLength="11.2" lengthAdjust="spacingAndGlyphs">16</text>
<text transform="translate(727.17 34.75) rotate(-25.9)" x="-19.6" y="4.3" font-family="'Liberation Sans', sans-serif" font-size="11.5" textLength="19.6" lengthAdjust="spacingAndGlyphs">15.5</text>
<text transform="translate(731.75 43.01) rotate(-32.1)" x="-11.2" y="4.3" font-family="'Liberation Sans', sans-serif" font-size="11.5" textLength="11.2" lengthAdjust="spacingAndGlyphs">15</text>
<text transform="translate(737.20 50.72) rotate(-38.4)" x="-19.6" y="4.3" font-family="'Liberation Sans', sans-serif" font-size="11.5" textLength="19.6" lengthAdjust="spacingAndGlyphs">14.5</text>
<text transform="translate(743.46 57.79) rotate(-44.6)" x="-11.2" y="4.3" font-family="'Liberation Sans', sans-serif" font-size="11.5" textLength="11.2" lengthAdjust="spacingAndGlyphs">14</text>
<text transform="translate(750.45 64.13) rotate(-50.9)" x="-19.6" y="4.3" font-family="'Liberation Sans', sans-serif" font-size="11.5" textLength="19.6" lengthAdjust="spacingAndGlyphs">13.5</text>
<text transform="translate(758.10 69.68) rotate(-57.2)" x="-11.2" y="4.3" font-family="'Liberation Sans', sans-serif" font-size="11.5" textLength="11.2" lengthAdjust="spacingAndGlyphs">13</text>
<text transform="translate(766.30 74.36) rotate(-63.4)" x="-19.6" y="4.3" font-family="'Liberation Sans', sans-serif" font-size="11.5" textLength="19.6" lengthAdjust="spacingAndGlyphs">12.5</text>
<text transform="translate(774.96 78.12) rotate(-69.7)" x="-11.2" y="4.3" font-family="'Liberation Sans', sans-serif" font-size="11.5" textLength="11.2" lengthAdjust="spacingAndGlyphs">12</text>
<text transform="translate(783.98 80.91) rotate(-75.9)" x="-19.6" y="4.3" font-family="'Liberation Sans', sans-serif" font-size="11.5" textLength="19.6" lengthAdjust="spacingAndGlyphs">11.5</text>
<text transform="translate(793.25 82.70) rotate(-82.2)" x="-11.2" y="4.3" font-family="'Liberation Sans', sans-serif" font-size="11.5" textLength="11.2" lengthAdjust="spacingAndGlyphs">11</text>
<text x="778.8" y="19.7" font-family="'Liberation Sans', sans-serif" font-size="11.5" textLength="9.4" lengthAdjust="spacingAndGlyphs">°C</text></svg>
</body></html>
